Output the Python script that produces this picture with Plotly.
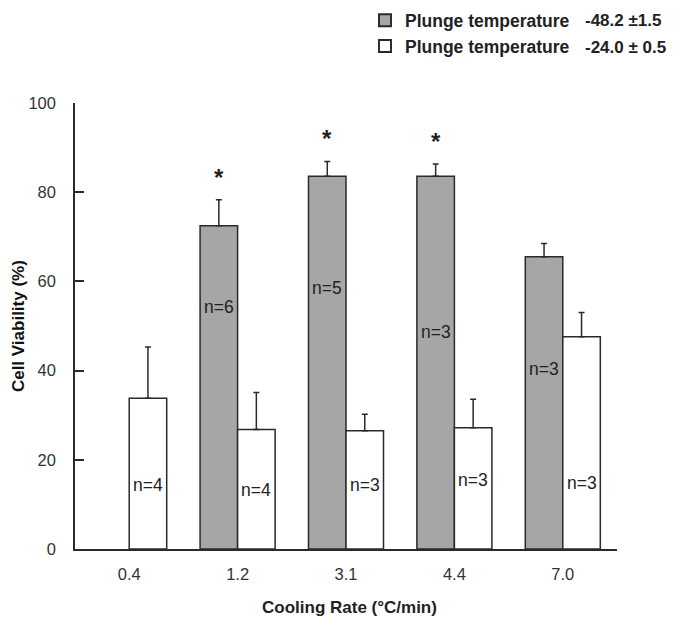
import plotly.graph_objects as go

# ---- data ----
categories = ["0.4", "1.2", "3.1", "4.4", "7.0"]
cold_mean = [None, 72.5, 83.6, 83.6, 65.5]     # Plunge temperature -48.2 ± 1.5
cold_err = [0, 5.8, 3.3, 2.7, 3.0]
warm_mean = [33.8, 26.8, 26.5, 27.2, 47.6]     # Plunge temperature -24.0 ± 0.5
warm_err = [11.5, 8.3, 3.7, 6.4, 5.4]
cold_n = [None, "n=6", "n=5", "n=3", "n=3"]
warm_n = ["n=4", "n=4", "n=3", "n=3", "n=3"]
cold_n_y = [None, 54.3, 58.5, 48.7, 40.4]
warm_n_y = [14.3, 13.2, 14.3, 15.5, 14.9]
significant = [False, True, True, True, False]
legend_names = ["Plunge temperature", "Plunge temperature"]
legend_values = ["-48.2 \u00b11.5", "-24.0 \u00b1 0.5"]

FONT = "Liberation Sans, Arial, sans-serif"
EDGE = "#2a2a2a"
BAR_OFF = 18.7  # px from group centre to bar centre

fig = go.Figure()
fig.add_trace(go.Bar(
    x=categories, y=cold_mean, name="<b>" + legend_names[0] + "</b>", legendgroup="a",
    marker=dict(color="#a6a6a6", line=dict(color=EDGE, width=1.5)),
    error_y=dict(type="data", symmetric=False, array=cold_err,
                 arrayminus=[0] * len(cold_err), color=EDGE, thickness=1.5, width=3),
))
fig.add_trace(go.Bar(
    x=categories, y=warm_mean, name="<b>" + legend_names[1] + "</b>", legendgroup="b",
    marker=dict(color="white", line=dict(color=EDGE, width=1.5)),
    error_y=dict(type="data", symmetric=False, array=warm_err,
                 arrayminus=[0] * len(warm_err), color=EDGE, thickness=1.5, width=3),
))

annotations = []
for i, (t, yy) in enumerate(zip(cold_n, cold_n_y)):
    if t:
        annotations.append(dict(x=i, y=yy, text=t, showarrow=False, xshift=-BAR_OFF,
                                font=dict(size=17.5, color="#222", family=FONT)))
for i, (t, yy) in enumerate(zip(warm_n, warm_n_y)):
    annotations.append(dict(x=i, y=yy, text=t, showarrow=False, xshift=BAR_OFF,
                            font=dict(size=17.5, color="#222", family=FONT)))
for i, (sig, m, e) in enumerate(zip(significant, cold_mean, cold_err)):
    if sig:
        annotations.append(dict(x=i, y=m + e, text="<b>*</b>", showarrow=False,
                                xshift=-BAR_OFF, yanchor="bottom", yshift=7,
                                font=dict(size=24, color="#222", family=FONT)))
for i, v in enumerate(legend_values):
    annotations.append(dict(xref="paper", yref="paper", x=0.938, y=[1.185, 1.1255][i],
                            xanchor="left", yanchor="middle", text="<b>" + v + "</b>",
                            showarrow=False, font=dict(size=17, color="#222", family=FONT)))
annotations.append(dict(xref="paper", yref="paper", x=0.506, y=-0.132, xanchor="center",
                        yanchor="middle", text="<b>Cooling Rate (\u00b0C/min)</b>",
                        showarrow=False, font=dict(size=17, color="#222", family=FONT)))
annotations.append(dict(xref="paper", yref="paper", x=-0.105, y=0.5, xanchor="center",
                        yanchor="middle", textangle=-90, text="<b>Cell Viability (%)</b>",
                        showarrow=False, font=dict(size=17, color="#111", family=FONT)))

fig.update_layout(
    width=667, height=618,
    margin=dict(l=67, r=58, t=95, b=77, autoexpand=False),
    paper_bgcolor="white", plot_bgcolor="white",
    barmode="group", bargap=0.308, bargroupgap=0,
    font=dict(family=FONT, color="#222"),
    showlegend=True,
    legend=dict(x=0.535, y=1.2256, xanchor="left", yanchor="top", traceorder="grouped",
                font=dict(size=17.5, color="#222", family=FONT), bgcolor="rgba(0,0,0,0)",
                itemsizing="constant", tracegroupgap=0),
    annotations=annotations,
    xaxis=dict(type="category", range=[-0.5, 4.5], showline=True, linecolor=EDGE,
               linewidth=1.5, ticks="", showgrid=False, ticklabelstandoff=9, automargin=False,
               tickfont=dict(size=16.5, color="#333", family=FONT)),
    yaxis=dict(range=[0, 100], dtick=20, showline=True, linecolor=EDGE, linewidth=1.5,
               ticks="inside", ticklen=9, tickwidth=1.5, tickcolor=EDGE, showgrid=False,
               zeroline=False, ticklabelstandoff=14, automargin=False,
               tickfont=dict(size=16.5, color="#333", family=FONT)),
)

fig.write_html("out.html")
